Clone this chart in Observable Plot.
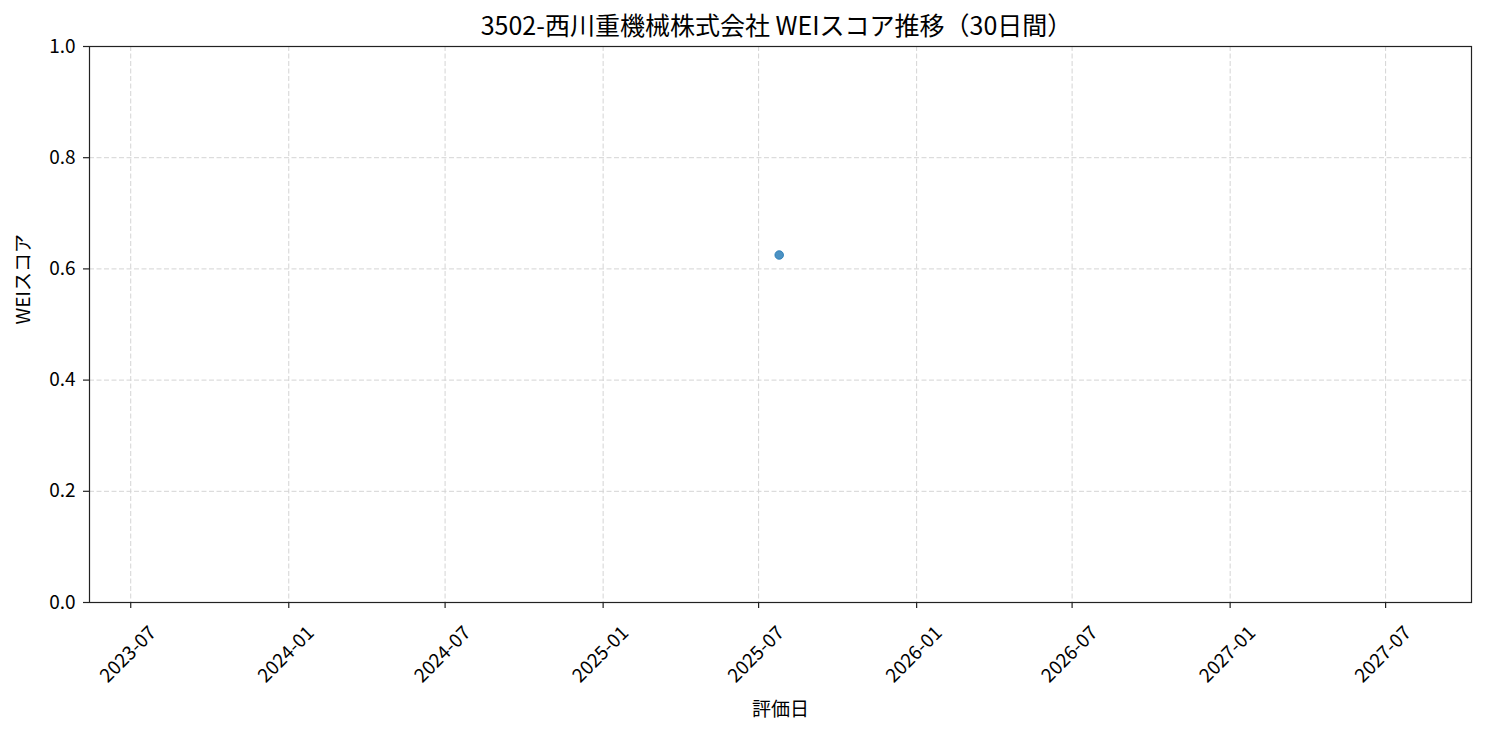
<!DOCTYPE html>
<html>
<head>
<meta charset="utf-8">
<script src="https://cdn.jsdelivr.net/npm/d3@7"></script>
<script src="https://cdn.jsdelivr.net/npm/@observablehq/plot@0.6"></script>
<style>
  html, body { margin: 0; padding: 0; background: #fff; }
  body { width: 1485px; height: 735px; overflow: hidden; font-family: "Noto Sans CJK JP", "Noto Sans", sans-serif; }
  svg { display: block; }
</style>
</head>
<body>
<div id="chart"></div>
<script>
const titleText = "3502-西川重機械株式会社 WEIスコア推移（30日間）";
const xLabel = "評価日";
const yLabel = "WEIスコア";

// data
const dates = ["2025-07-25"];
const scores = [0.625];

// ticks
const xTickLabels = ["2023-07","2024-01","2024-07","2025-01","2025-07","2026-01","2026-07","2027-01","2027-07"];
const yTicks = [0, 0.2, 0.4, 0.6, 0.8, 1.0];
const xDomain = ["2023-05-14", "2027-10-09"];

const parse = d3.utcParse("%Y-%m-%d");
const data = dates.map((d, i) => ({date: parse(d), score: scores[i]}));
const xTicks = xTickLabels.map(s => d3.utcParse("%Y-%m")(s));
const fmt = d3.utcFormat("%Y-%m");

const chart = Plot.plot({
  width: 1485,
  height: 735,
  marginTop: 46,
  marginLeft: 89,
  marginRight: 14,
  marginBottom: 133,
  style: {fontFamily: '"Noto Sans CJK JP", "Noto Sans", sans-serif', fontSize: "19px", color: "#000", background: "#fff"},
  x: {type: "utc", domain: xDomain.map(parse)},
  y: {domain: [0, 1]},
  marks: [
    Plot.gridX(xTicks, {stroke: "#d4d4d4", strokeOpacity: 1, strokeWidth: 1, strokeDasharray: "5,2.5"}),
    Plot.gridY(yTicks, {stroke: "#d4d4d4", strokeOpacity: 1, strokeWidth: 1, strokeDasharray: "5,2.5"}),
    Plot.frame({stroke: "#222", strokeWidth: 1.2}),
    Plot.axisY({ticks: yTicks, tickFormat: d3.format(".1f"), tickSize: 6, tickPadding: 8, label: null, fontSize: 19, stroke: "#222", strokeWidth: 1.2}),
    Plot.axisX({ticks: xTicks, tickFormat: () => "", tickSize: 6, label: null, stroke: "#222", strokeWidth: 1.2}),
    Plot.text(xTicks, {x: d => d, text: d => fmt(d), frameAnchor: "bottom", dy: 52, dx: -2.5, rotate: -45, textAnchor: "middle", lineAnchor: "middle", fontSize: 19, fill: "#000"}),
    Plot.text([xLabel], {text: d => d, frameAnchor: "bottom", dy: 107, lineAnchor: "middle", fontSize: 19, fill: "#000"}),
    Plot.text([yLabel], {text: d => d, frameAnchor: "left", dx: -66, rotate: -90, lineAnchor: "middle", fontSize: 19, fill: "#000"}),
    Plot.text([titleText], {text: d => d, frameAnchor: "top", dy: -20, dx: -4, lineAnchor: "middle", fontSize: 25, fill: "#000"}),
    Plot.dot(data, {x: "date", y: "score", r: 4.3, fill: "#1f77b4", fillOpacity: 0.8, stroke: "#1f77b4", strokeOpacity: 0.8, strokeWidth: 1})
  ]
});
document.getElementById("chart").appendChild(chart);
</script>
</body>
</html>
